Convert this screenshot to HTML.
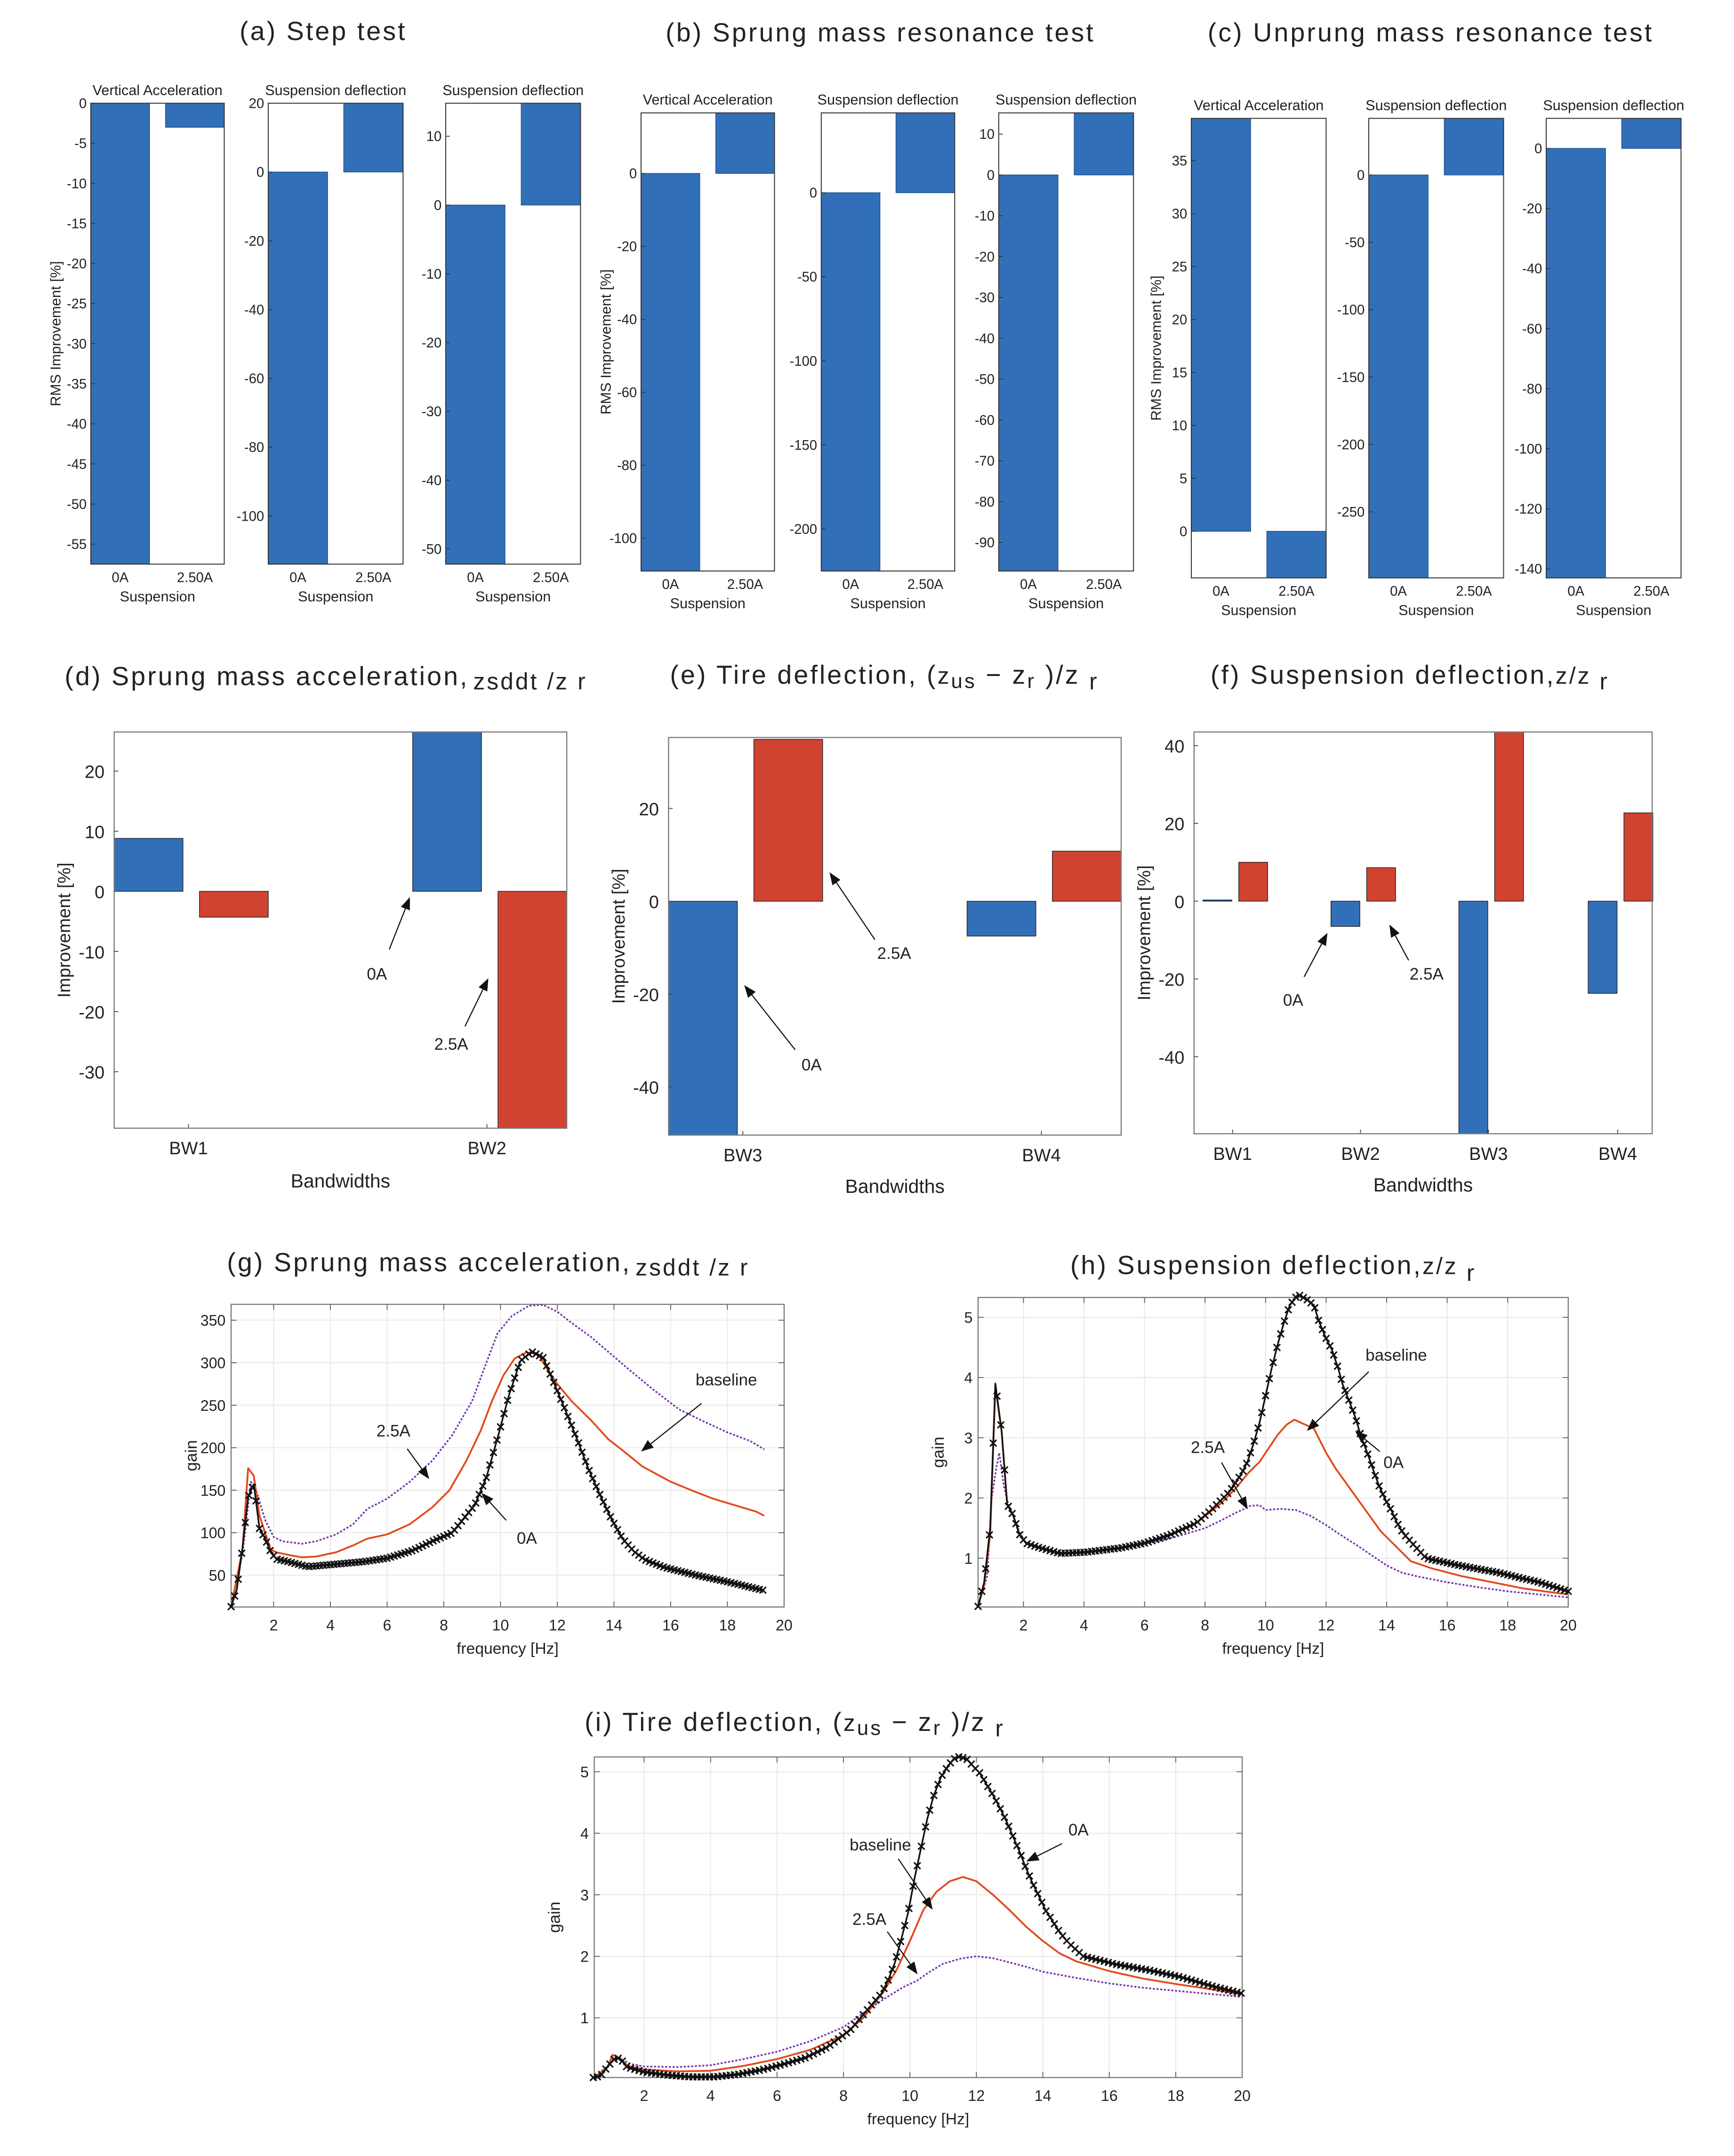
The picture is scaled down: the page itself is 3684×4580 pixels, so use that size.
<!DOCTYPE html>
<html><head><meta charset="utf-8">
<style>
html,body{margin:0;padding:0;background:#fff;}
svg{display:block;}
text{font-family:"Liberation Sans",sans-serif;fill:#222;}
</style></head>
<body>
<svg id="fig" xmlns="http://www.w3.org/2000/svg" width="3684" height="4580" viewBox="0 0 1260.5 1567">
<rect x="0" y="0" width="1260.5" height="1567" fill="#fff"/>
<g id="titles" font-size="19" letter-spacing="1.4">
<text x="235" y="29" text-anchor="middle">(a) Step test</text>
<text x="640" y="30" text-anchor="middle">(b) Sprung mass resonance test</text>
<text x="1040" y="30" text-anchor="middle">(c) Unprung mass resonance test</text>
<text x="47" y="498">(d) Sprung mass acceleration,<tspan font-size="17" dx="3" dy="3">zsddt /z r</tspan></text>
<text x="487" y="497">(e) Tire deflection, (<tspan font-size="17">z</tspan><tspan font-size="15" dy="3">us</tspan><tspan dy="-3"> − z</tspan><tspan font-size="15" dy="3">r</tspan><tspan dy="-3"> )/z </tspan><tspan font-size="17" dy="4">r</tspan></text>
<text x="880" y="497">(f) Suspension deflection,<tspan font-size="17">z/z </tspan><tspan font-size="17" dy="4">r</tspan></text>
<text x="165" y="924">(g) Sprung mass acceleration,<tspan font-size="17" dx="3" dy="3">zsddt /z r</tspan></text>
<text x="778" y="926">(h) Suspension deflection,<tspan font-size="17">z/z </tspan><tspan font-size="17" dy="5">r</tspan></text>
<text x="425" y="1258">(i) Tire deflection, (<tspan font-size="17">z</tspan><tspan font-size="15" dy="3">us</tspan><tspan dy="-3"> − z</tspan><tspan font-size="15" dy="3">r</tspan><tspan dy="-3"> )/z </tspan><tspan font-size="17" dy="4">r</tspan></text>
</g>
</svg>
<script>
// ---------- Row 1 bar data ----------
const row1Cats = ['0A', '2.50A'];
const a1Values = [-57.5, -3];
const a1Ticks = [0, -5, -10, -15, -20, -25, -30, -35, -40, -45, -50, -55];
const a2Values = [-114, 20];
const a2Ticks = [20, 0, -20, -40, -60, -80, -100];
const a3Values = [-52.2, 14.8];
const a3Ticks = [10, 0, -10, -20, -30, -40, -50];
const b1Values = [-109, 16.6];
const b1Ticks = [0, -20, -40, -60, -80, -100];
const b2Values = [-225, 47.5];
const b2Ticks = [0, -50, -100, -150, -200];
const b3Values = [-97, 15.2];
const b3Ticks = [10, 0, -10, -20, -30, -40, -50, -60, -70, -80, -90];
const c1Values = [39, -4.4];
const c1Ticks = [0, 5, 10, 15, 20, 25, 30, 35];
const c2Values = [-299, 42];
const c2Ticks = [0, -50, -100, -150, -200, -250];
const c3Values = [-143, 10];
const c3Ticks = [0, -20, -40, -60, -80, -100, -120, -140];

// ---------- Row 2 bar data ----------
const dCats = ['BW1', 'BW2'];
const d0A = [8.8, 26.5];
const d25A = [-4.3, -39.4];
const dTicks = [20, 10, 0, -10, -20, -30];
const eCats = ['BW3', 'BW4'];
const e0A = [-50.4, -7.5];
const e25A = [34.9, 10.8];
const eTicks = [20, 0, -20, -40];
const fCats = ['BW1', 'BW2', 'BW3', 'BW4'];
const f0A = [0.3, -6.5, -59.8, -23.7];
const f25A = [10, 8.6, 43.5, 22.7];
const fTicks = [40, 20, 0, -20, -40];

// ---------- Row 3 line data ----------
const freqTicks = [2, 4, 6, 8, 10, 12, 14, 16, 18, 20];
const gTicksY = [50, 100, 150, 200, 250, 300, 350];
const gF0A = [0.5,0.7,0.9,1.1,1.3,1.5,1.7,1.9,2.1,2.5,3.2,4.2,5.2,6.0,6.9,7.6,8.3,9.1,9.5,9.9,10.3,10.7,11.1,11.5,11.9,12.3,12.7,13.1,13.5,13.9,14.3,14.7,15.1,15.8,16.9,17.9,19.3];
const gG0A = [13,33,82,142,157,105,93,77,69,66,60,63,66,70,79,90,100,133,165,212,262,302,313,306,275,243,210,175,145,117,93,78,68,59,50,43,32];
const gFBase = [0.5,0.9,1.1,1.3,1.5,1.9,2.1,2.5,3.0,3.5,4.2,4.8,5.3,6.0,6.8,7.6,8.2,8.8,9.3,9.7,10.1,10.5,10.9,11.3,11.7,12.0,12.5,13.2,13.8,14.3,15.0,16.0,16.8,17.5,18.3,19.0,19.3];
const gGBase = [13,80,176,167,120,80,77,74,71,72,77,85,93,98,110,130,150,185,220,255,285,305,312,311,290,275,255,232,210,197,178,160,149,140,132,125,120];
const gF25 = [0.5,0.9,1.2,1.4,1.7,2.0,2.3,3.0,3.5,4.2,4.8,5.3,6.0,6.8,7.6,8.3,9.0,9.5,9.9,10.4,11.0,11.5,12.0,12.5,13.2,13.9,14.6,15.4,16.3,17.1,18.0,18.8,19.3];
const gG25 = [13,75,160,148,115,95,90,87,90,98,110,128,140,160,185,215,255,300,335,355,367,368,360,347,330,310,290,268,245,232,218,208,198];

const hTicksY = [1, 2, 3, 4, 5];
const hF0A = [0.5,0.7,0.9,1.07,1.28,1.46,1.67,1.86,2.08,2.5,3.2,4.05,5.2,6.0,6.8,7.7,8.2,8.8,9.2,9.4,9.6,9.8,10.0,10.2,10.4,10.6,10.8,11.07,11.35,11.6,11.75,11.97,12.2,12.4,12.55,12.77,12.97,13.15,13.36,13.57,13.75,13.96,14.17,14.33,14.54,14.75,15.3,16.3,17.7,19.05,20];
const hG0A = [0.2,0.6,1.5,3.9,3.1,1.9,1.7,1.4,1.25,1.18,1.08,1.1,1.17,1.25,1.38,1.58,1.8,2.1,2.4,2.6,2.9,3.25,3.7,4.15,4.55,4.9,5.2,5.38,5.3,5.2,4.95,4.68,4.45,4.15,3.88,3.6,3.33,3.03,2.75,2.45,2.2,1.97,1.78,1.6,1.42,1.3,1.0,0.89,0.76,0.6,0.45];
const hFBase = [0.5,0.7,0.9,1.07,1.28,1.46,1.67,1.86,2.08,2.5,3.2,4.05,5.2,6.0,6.8,7.7,8.0,8.5,9.0,9.4,9.8,10.0,10.4,10.7,10.95,11.3,11.6,12.0,12.3,12.8,13.3,13.8,14.3,14.8,15.5,16.5,17.5,18.5,19.5,20];
const hGBase = [0.2,0.55,1.4,3.85,3.1,1.9,1.7,1.4,1.25,1.18,1.08,1.1,1.17,1.25,1.38,1.58,1.7,1.9,2.15,2.4,2.6,2.75,3.05,3.22,3.3,3.22,3.15,2.75,2.5,2.15,1.8,1.45,1.2,0.95,0.83,0.7,0.6,0.5,0.43,0.4];
const hF25 = [0.5,0.8,0.95,1.1,1.2,1.35,1.5,1.7,1.9,2.1,2.5,3.2,4,5,6,7,8,8.5,9,9.5,9.8,10,10.5,11,11.5,12,12.5,13,13.5,14,14.5,15,16,17,18,19,20];
const hG25 = [0.2,0.7,2.0,2.5,2.75,2.2,1.9,1.65,1.4,1.25,1.18,1.08,1.1,1.15,1.23,1.35,1.5,1.62,1.75,1.87,1.88,1.8,1.82,1.8,1.7,1.55,1.38,1.22,1.05,0.88,0.76,0.7,0.6,0.52,0.45,0.4,0.35];

const iTicksY = [1, 2, 3, 4, 5];
const iF0A = [0.47,0.68,0.89,1.1,1.27,1.48,2.0,2.7,3.4,4.1,4.8,5.5,6.15,6.85,7.5,8.2,8.75,9.15,9.35,9.55,9.75,9.95,10.14,10.33,10.52,10.71,10.92,11.13,11.3,11.5,11.72,11.92,12.1,12.3,12.5,12.7,12.9,13.1,13.3,13.48,13.68,13.88,14.08,14.26,14.47,14.67,14.85,15.22,16.2,17.15,18.1,19.2,19.97];
const iG0A = [0.03,0.05,0.2,0.33,0.35,0.2,0.12,0.07,0.04,0.04,0.08,0.15,0.24,0.35,0.52,0.8,1.15,1.4,1.62,1.9,2.3,2.72,3.27,3.75,4.23,4.6,4.9,5.08,5.2,5.25,5.2,5.08,4.98,4.8,4.62,4.42,4.2,3.95,3.7,3.45,3.2,2.98,2.75,2.6,2.42,2.28,2.18,2.0,1.87,1.78,1.67,1.5,1.4];
const iFBase = [0.47,0.9,1.05,1.3,1.5,2,3,4,5,6,7,8,8.6,9.2,9.6,10.0,10.4,10.8,11.2,11.6,12.0,12.5,13.0,13.5,14.0,14.5,15.0,16,17,18,19,20];
const iGBase = [0.02,0.2,0.4,0.33,0.22,0.16,0.13,0.14,0.22,0.33,0.48,0.72,1.0,1.42,1.78,2.25,2.75,3.05,3.22,3.29,3.22,3.0,2.75,2.48,2.25,2.05,1.92,1.76,1.64,1.55,1.47,1.38];
const iF25 = [0.47,0.9,1.1,1.3,1.6,2,3,4,5,6,7,8,8.6,9.2,9.8,10.2,10.6,11.0,11.5,12.0,12.5,13.0,13.5,14.0,15,16,17,18,19,20];
const iG25 = [0.02,0.22,0.35,0.33,0.25,0.21,0.2,0.23,0.33,0.45,0.62,0.85,1.08,1.3,1.5,1.6,1.75,1.88,1.96,2.0,1.97,1.9,1.83,1.75,1.65,1.56,1.49,1.44,1.39,1.34];

const BLUE = '#3170b8', RED = '#d14331', ORANGE = '#e2491b', PURPLE = '#7434b0';
const NS = 'http://www.w3.org/2000/svg';
const svg = document.getElementById('fig');

function mk(tag, attrs, parent) {
  const e = document.createElementNS(NS, tag);
  for (const k in attrs) e.setAttribute(k, attrs[k]);
  (parent || svg).appendChild(e);
  return e;
}
function txt(s, attrs, parent) {
  const t = mk('text', attrs, parent);
  t.textContent = s;
  return t;
}
function linScale(d0, d1, r0, r1) { return v => r0 + (v - d0) * (r1 - r0) / (d1 - d0); }

// ---------- Row 1: small two-bar panels ----------
function smallBar(name, box, dom, ticks, values, title, showYLabel) {
  const g = mk('g', {});
  
  
  const [x0, y0, x1, y1] = box;
  const w = x1 - x0;
  const y = linScale(dom[0], dom[1], y1, y0);
  values.forEach((v, i) => {
    const cx = x0 + w * (0.22 + 0.56 * i);
    const bw = w * 0.44;
    const r = mk('rect', {x: cx - bw / 2, y: Math.min(y(v), y(0)), width: bw, height: Math.abs(y(v) - y(0)), fill: BLUE, stroke: '#1f4f86', 'stroke-width': 0.5}, g);
    
    
    const tl = txt(row1Cats[i], {x: cx, y: y1 + 13, 'font-size': 10, 'text-anchor': 'middle'}, g);
    
    
  });
  const fr = mk('rect', {x: x0, y: y0, width: w, height: y1 - y0, fill: 'none', stroke: '#333', 'stroke-width': 0.7}, g);
  
  
  ticks.forEach(t => {
    const ty = y(t);
    mk('line', {x1: x0, x2: x0 + 3, y1: ty, y2: ty, stroke: '#333', 'stroke-width': 0.6}, g);
    const tl = txt(String(t), {x: x0 - 3, y: ty + 3.5, 'font-size': 10, 'text-anchor': 'end', fill: '#333'}, g);
    
    
  });
  const tt = txt(title, {x: (x0 + x1) / 2, y: y0 - 6, 'font-size': 10.5, 'text-anchor': 'middle'}, g);
  
  
  const xl = txt('Suspension', {x: (x0 + x1) / 2, y: y1 + 27, 'font-size': 10.5, 'text-anchor': 'middle'}, g);
  
  
  if (showYLabel) {
    const cy = (y0 + y1) / 2;
    const yl = txt('RMS Improvement [%]', {x: x0 - 22, y: cy, 'font-size': 10.5, 'text-anchor': 'middle', transform: 'rotate(-90 ' + (x0 - 22) + ' ' + cy + ')'}, g);
    
    
  }
}
smallBar('chart-a1', [66, 75, 163, 410], [-57.5, 0], a1Ticks, a1Values, 'Vertical Acceleration', true);
smallBar('chart-a2', [195, 75, 293, 410], [-114, 20], a2Ticks, a2Values, 'Suspension deflection', false);
smallBar('chart-a3', [324, 75, 422, 410], [-52.2, 14.8], a3Ticks, a3Values, 'Suspension deflection', false);
smallBar('chart-b1', [466, 82, 563, 415], [-109, 16.6], b1Ticks, b1Values, 'Vertical Acceleration', true);
smallBar('chart-b2', [597, 82, 694, 415], [-225, 47.5], b2Ticks, b2Values, 'Suspension deflection', false);
smallBar('chart-b3', [726, 82, 824, 415], [-97, 15.2], b3Ticks, b3Values, 'Suspension deflection', false);
smallBar('chart-c1', [866, 86, 964, 420], [-4.4, 39], c1Ticks, c1Values, 'Vertical Acceleration', true);
smallBar('chart-c2', [995, 86, 1093, 420], [-299, 42], c2Ticks, c2Values, 'Suspension deflection', false);
smallBar('chart-c3', [1124, 86, 1222, 420], [-143, 10], c3Ticks, c3Values, 'Suspension deflection', false);

// ---------- arrows ----------
function arrow(parent, x1, y1, x2, y2, label, lx, ly) {
  const g = mk('g', {}, parent);
  
  
  const ang = Math.atan2(y2 - y1, x2 - x1);
  const L = 9, W = 3.5;
  const bx = x2 - L * Math.cos(ang), by = y2 - L * Math.sin(ang);
  mk('line', {x1: x1, y1: y1, x2: bx, y2: by, stroke: '#111', 'stroke-width': 0.8}, g);
  mk('polygon', {points: x2 + ',' + y2 + ' ' + (bx - W * Math.sin(ang)) + ',' + (by + W * Math.cos(ang)) + ' ' + (bx + W * Math.sin(ang)) + ',' + (by - W * Math.cos(ang)), fill: '#111'}, g);
  txt(label, {x: lx, y: ly, 'font-size': 12, 'text-anchor': 'middle'}, g);
}

// ---------- Row 2: grouped bars ----------
function groupBar(name, box, dom, ticks, cats, v0, v1, catX, off0, off1, bw, xlabY) {
  const g = mk('g', {});
  
  
  const [x0, y0, x1, y1] = box;
  const y = linScale(dom[0], dom[1], y1, y0);
  cats.forEach((c, i) => {
    const cx = catX[i];
    const r0 = mk('rect', {x: cx + off0 - bw / 2, y: Math.min(y(v0[i]), y(0)), width: bw, height: Math.abs(y(v0[i]) - y(0)), fill: BLUE, stroke: '#222', 'stroke-width': 0.5}, g);
    
    
    const r1 = mk('rect', {x: cx + off1 - bw / 2, y: Math.min(y(v1[i]), y(0)), width: bw, height: Math.abs(y(v1[i]) - y(0)), fill: RED, stroke: '#222', 'stroke-width': 0.5}, g);
    
    
    mk('line', {x1: cx, x2: cx, y1: y1, y2: y1 - 3, stroke: '#444', 'stroke-width': 0.6}, g);
    const tl = txt(c, {x: cx, y: y1 + 19, 'font-size': 13, 'text-anchor': 'middle'}, g);
    
    
  });
  const fr = mk('rect', {x: x0, y: y0, width: x1 - x0, height: y1 - y0, fill: 'none', stroke: '#777', 'stroke-width': 0.8}, g);
  
  
  ticks.forEach(t => {
    const ty = y(t);
    mk('line', {x1: x0, x2: x0 + 3, y1: ty, y2: ty, stroke: '#444', 'stroke-width': 0.6}, g);
    const tl = txt(String(t), {x: x0 - 7, y: ty + 5, 'font-size': 13, 'text-anchor': 'end'}, g);
    
    
  });
  const xl = txt('Bandwidths', {x: (x0 + x1) / 2, y: xlabY, 'font-size': 14, 'text-anchor': 'middle'}, g);
  
  
  const cy = (y0 + y1) / 2, lx = x0 - 32;
  const yl = txt('Improvement [%]', {x: lx, y: cy, 'font-size': 13, 'text-anchor': 'middle', transform: 'rotate(-90 ' + lx + ' ' + cy + ')'}, g);
  
  
  return g;
}
const gd = groupBar('chart-d', [83, 532, 412, 820], [-39.4, 26.5], dTicks, dCats, d0A, d25A, [137, 354], -29, 33, 50, 863);
arrow(gd, 283, 690, 298, 652, '0A', 274, 712);
arrow(gd, 338, 746, 355, 711, '2.5A', 328, 763);
const ge = groupBar('chart-e', [486, 536, 815, 825], [-50.4, 35.3], eTicks, eCats, e0A, e25A, [540, 757], -29, 33, 50, 867);
arrow(ge, 636, 683, 603, 634, '2.5A', 650, 697);
arrow(ge, 578, 763, 541, 716, '0A', 590, 778);
const gf = groupBar('chart-f', [868, 532, 1201, 824], [-59.8, 43.5], fTicks, fCats, f0A, f25A, [896, 989, 1082, 1176], -11, 15, 21, 866);
arrow(gf, 948, 710, 965, 678, '0A', 940, 731);
arrow(gf, 1024, 698, 1010, 672, '2.5A', 1037, 712);

// ---------- Row 3: line charts ----------
function interp(fs, vs, f) {
  for (let i = 0; i < fs.length - 1; i++) {
    if (f >= fs[i] && f <= fs[i + 1]) return vs[i] + (vs[i + 1] - vs[i]) * (f - fs[i]) / (fs[i + 1] - fs[i]);
  }
  return null;
}
function lineChart(name, box, ydom, yTicks, series) {
  const g = mk('g', {});
  
  
  const [x0, y0, x1, y1] = box;
  const x = linScale(0.5, 20, x0, x1);
  const y = linScale(ydom[0], ydom[1], y1, y0);
  freqTicks.forEach(t => {
    mk('line', {x1: x(t), x2: x(t), y1: y0, y2: y1, stroke: '#e6e6e6', 'stroke-width': 0.6}, g);
    mk('line', {x1: x(t), x2: x(t), y1: y1, y2: y1 - 4, stroke: '#555', 'stroke-width': 0.6}, g);
    mk('line', {x1: x(t), x2: x(t), y1: y0, y2: y0 + 4, stroke: '#555', 'stroke-width': 0.6}, g);
    const tl = txt(String(t), {x: x(t), y: y1 + 17, 'font-size': 11, 'text-anchor': 'middle', fill: '#333'}, g);
    
    
  });
  yTicks.forEach(t => {
    mk('line', {x1: x0, x2: x1, y1: y(t), y2: y(t), stroke: '#e6e6e6', 'stroke-width': 0.6}, g);
    mk('line', {x1: x0, x2: x0 + 4, y1: y(t), y2: y(t), stroke: '#555', 'stroke-width': 0.6}, g);
    mk('line', {x1: x1, x2: x1 - 4, y1: y(t), y2: y(t), stroke: '#555', 'stroke-width': 0.6}, g);
    const tl = txt(String(t), {x: x0 - 4, y: y(t) + 4, 'font-size': 11, 'text-anchor': 'end', fill: '#333'}, g);
    
    
  });
  const fr = mk('rect', {x: x0, y: y0, width: x1 - x0, height: y1 - y0, fill: 'none', stroke: '#777', 'stroke-width': 0.8}, g);
  
  
  series.forEach(s => {
    const pts = s.f.map((f, i) => x(f).toFixed(2) + ',' + y(s.v[i]).toFixed(2)).join(' ');
    const pl = mk('polyline', {points: pts, fill: 'none', stroke: s.color, 'stroke-width': s.w, 'stroke-dasharray': s.dash || 'none', 'stroke-linejoin': 'round'}, g);
    
    
    if (s.markers) {
      const mg = mk('g', {stroke: '#111', 'stroke-width': 1.1}, g);
      
      
      for (let f = s.f[0]; f <= s.f[s.f.length - 1] + 1e-6; f += 0.125) {
        const v = interp(s.f, s.v, f);
        if (v === null) continue;
        const px = x(f), py = y(v), r = 2.4;
        mk('path', {d: 'M' + (px - r) + ' ' + (py - r) + 'L' + (px + r) + ' ' + (py + r) + 'M' + (px - r) + ' ' + (py + r) + 'L' + (px + r) + ' ' + (py - r)}, mg);
      }
    }
  });
  const xl = txt('frequency [Hz]', {x: (x0 + x1) / 2, y: y1 + 34, 'font-size': 11.5, 'text-anchor': 'middle', fill: '#333'}, g);
  
  
  const cy = (y0 + y1) / 2, lx = x0 - 25;
  const yl = txt('gain', {x: lx, y: cy, 'font-size': 12, 'text-anchor': 'middle', fill: '#444', transform: 'rotate(-90 ' + lx + ' ' + cy + ')'}, g);
  
  
  return g;
}
const gg = lineChart('chart-g', [168, 948, 570, 1168], [12.6, 368.7], gTicksY, [
  {key: '2-5a', f: gF25, v: gG25, color: PURPLE, w: 1.2, dash: '1.5 1.2'},
  {key: 'baseline', f: gFBase, v: gGBase, color: ORANGE, w: 1.3},
  {key: '0a', f: gF0A, v: gG0A, color: '#111', w: 1.2, markers: true}
]);
arrow(gg, 296, 1053, 312, 1075, '2.5A', 286, 1044);
arrow(gg, 510, 1020, 466, 1055, 'baseline', 528, 1007);
arrow(gg, 368, 1105, 350, 1085, '0A', 383, 1122);
const gh = lineChart('chart-h', [711, 943, 1140, 1168], [0.19, 5.33], hTicksY, [
  {key: '2-5a', f: hF25, v: hG25, color: PURPLE, w: 1.2, dash: '1.5 1.2'},
  {key: 'baseline', f: hFBase, v: hGBase, color: ORANGE, w: 1.3},
  {key: '0a', f: hF0A, v: hG0A, color: '#111', w: 1.2, markers: true}
]);
arrow(gh, 995, 997, 950, 1040, 'baseline', 1015, 989);
arrow(gh, 1003, 1055, 985, 1040, '0A', 1013, 1067);
arrow(gh, 888, 1063, 907, 1097, '2.5A', 878, 1056);
const gi = lineChart('chart-i', [432, 1277, 903, 1510], [0.03, 5.24], iTicksY, [
  {key: '2-5a', f: iF25, v: iG25, color: PURPLE, w: 1.2, dash: '1.5 1.2'},
  {key: 'baseline', f: iFBase, v: iGBase, color: ORANGE, w: 1.3},
  {key: '0a', f: iF0A, v: iG0A, color: '#111', w: 1.2, markers: true}
]);
arrow(gi, 772, 1340, 746, 1353, '0A', 784, 1334);
arrow(gi, 653, 1351, 678, 1388, 'baseline', 640, 1345);
arrow(gi, 645, 1404, 667, 1435, '2.5A', 632, 1399);
</script>
</body></html>
